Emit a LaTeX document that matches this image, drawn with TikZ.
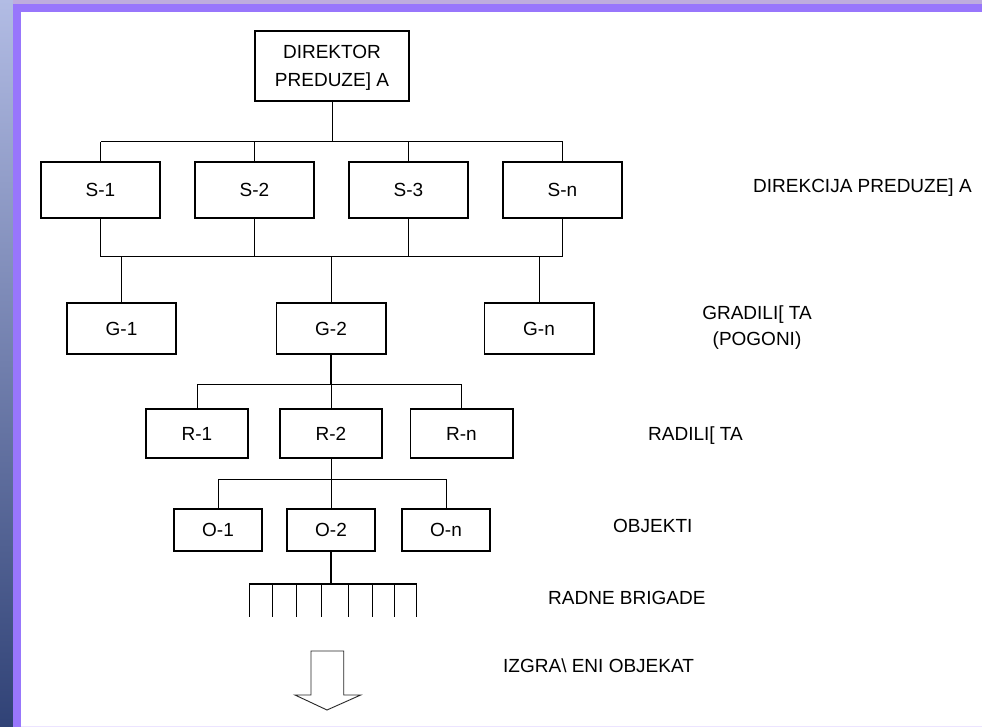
\documentclass[tikz,border=0pt]{standalone}
\usepackage{fontspec}
\setmainfont{Liberation Sans}
\definecolor{frameviolet}{RGB}{152,118,252}
\definecolor{skytop}{RGB}{178,188,228}
\definecolor{skymid}{RGB}{128,112,188}
\definecolor{skybot}{RGB}{48,66,118}
\definecolor{skystrip}{RGB}{190,172,222}
\definecolor{lavline}{RGB}{236,228,255}
\begin{document}
\begin{tikzpicture}[x=1pt,y=-1pt,
  box/.style={draw=black, line width=1.8pt, inner sep=0pt, align=center,
              font=\fontsize{19}{28}\selectfont},
  lbl/.style={inner sep=0pt, font=\fontsize{19}{26}\selectfont},
  conn/.style={draw=black, line width=1pt},
  stem/.style={draw=black, line width=1.7pt},
  sbox/.style={box, minimum width=119.2pt, minimum height=56.2pt},
  gbox/.style={box, minimum width=109.2pt, minimum height=51.2pt},
  rbox/.style={box, minimum width=102.2pt, minimum height=49.2pt},
  obox/.style={box, minimum width=88.2pt, minimum height=42.2pt}]
\useasboundingbox (0,0) rectangle (982,727);
% frame and background
\fill[white] (0,0) rectangle (982,727);
\shade[top color=skytop, middle color=skymid, bottom color=skybot] (0,0) rectangle (13,727);
\fill[skystrip] (13,0) rectangle (982,4);
\fill[frameviolet] (13,4) rectangle (982,12);
\fill[frameviolet] (13,4) rectangle (21,727);
\fill[lavline] (21,725.5) rectangle (982,727);

% nodes
\node[box, minimum width=154.2pt, minimum height=70.2pt] (dir) at (332,66)
  {\rule{0pt}{17.6pt}DIREKTOR\\PREDUZE] A};

\node[sbox] (s1) at (100.5,190) {S-1};
\node[sbox] (s2) at (254.5,190) {S-2};
\node[sbox] (s3) at (408.5,190) {S-3};
\node[sbox] (sn) at (562.5,190) {S-n};

\node[gbox] (g1) at (121.5,328.5) {G-1};
\node[gbox] (g2) at (331,328.5) {G-2};
\node[gbox] (gn) at (539,328.5) {G-n};

\node[rbox] (r1) at (197,433.5) {R-1};
\node[rbox] (r2) at (331,433.5) {R-2};
\node[rbox] (rn) at (461.5,433.5) {R-n};

\node[obox] (o1) at (218,529.7) {O-1};
\node[obox] (o2) at (331,529.7) {O-2};
\node[obox] (on) at (446,529.7) {O-n};

% bus levels
\coordinate (b1) at (0,142);
\coordinate (b2) at (0,257);
\coordinate (b3) at (0,384);
\coordinate (b4) at (0,479);
\coordinate (b5) at (0,584);

% director -> S
\draw[conn] (dir.south) -- (dir.south |- b1);
\draw[conn] (s1.north |- b1) -- (sn.north |- b1);
\foreach \n in {s1,s2,s3,sn} \draw[conn] (\n.north) -- (\n.north |- b1);

% S -> G
\foreach \n in {s1,s2,s3,sn} \draw[conn] (\n.south) -- (\n.south |- b2);
\draw[conn] (s1.south |- b2) -- (sn.south |- b2);
\foreach \n in {g1,g2,gn} \draw[conn] (\n.north) -- (\n.north |- b2);

% G-2 -> R
\draw[stem] (g2.south) -- (g2.south |- b3);
\draw[conn] (r1.north |- b3) -- (rn.north |- b3);
\foreach \n in {r1,r2,rn} \draw[conn] (\n.north) -- (\n.north |- b3);

% R-2 -> O
\draw[conn] (r2.south) -- (r2.south |- b4);
\draw[conn] (o1.north |- b4) -- (on.north |- b4);
\foreach \n in {o1,o2,on} \draw[conn] (\n.north) -- (\n.north |- b4);

% O-2 -> brigades
\foreach \x [count=\i] in {249,272.7,296.7,321,348.7,372.7,394.7,416.7} {
  \coordinate (bt\i) at (\x,584);
  \coordinate (bb\i) at (\x,617);
  \draw[conn] (bt\i) -- (bb\i);
}
\draw[stem, line width=2pt] (o2.south) -- (o2.south |- b5);
\draw[stem] (bt1) -- (bt8);

% block arrow
\draw[line width=0.9pt, draw=black!85] (311,651) -- (343.7,651) -- (343.7,695) -- (360.7,695)
  -- (327,710) -- (295,695) -- (311,695) -- cycle;

% right labels
\node[lbl, anchor=base west] (ldir) at (753,192.8) {DIREKCIJA PREDUZE] A};
\node[lbl, anchor=north, align=center] (lgrad) at (757,306) {GRADILI[ TA\\(POGONI)};
\node[lbl, anchor=base west] (lrad) at (648,440.8) {RADILI[ TA};
\node[lbl, anchor=base west] (lobj) at (613,532.5) {OBJEKTI};
\node[lbl, anchor=base west] (lbrig) at (548,604.8) {RADNE BRIGADE};
\node[lbl, anchor=base west] (lizg) at (503,672.8) {IZGRA\textbackslash\ ENI OBJEKAT};
\end{tikzpicture}
\end{document}
